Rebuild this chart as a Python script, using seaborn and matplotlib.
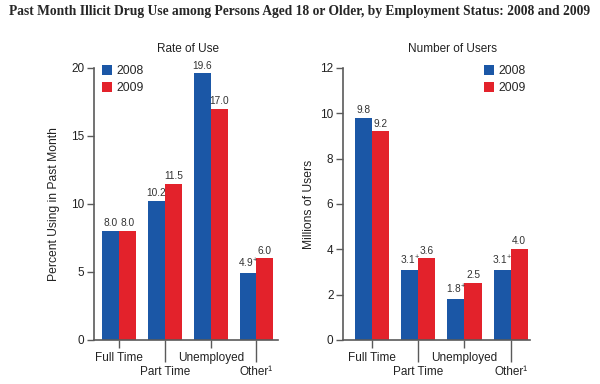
import pandas as pd
import seaborn as sns
import matplotlib.pyplot as plt

# Data
statuses = ["Full Time", "Part Time", "Unemployed", "Other"]
tick_labels = ["Full Time", "Part Time", "Unemployed", "Other¹"]
years = ["2008", "2009"]
rate_2008 = [8.0, 10.2, 19.6, 4.9]
rate_2009 = [8.0, 11.5, 17.0, 6.0]
users_2008 = [9.8, 3.1, 1.8, 3.1]
users_2009 = [9.2, 3.6, 2.5, 4.0]
# "+" marks (difference significant at the .05 level)
rate_flag_2008 = [False, False, False, True]
users_flag_2008 = [False, True, True, True]

BLUE = "#1b57a6"
RED = "#e3222b"
AXIS_GRAY = "#5a5a5a"
TEXT = "#222222"


def make_frame(v2008, v2009):
    return pd.DataFrame({
        "status": statuses * 2,
        "year": [years[0]] * len(statuses) + [years[1]] * len(statuses),
        "value": v2008 + v2009,
    })


def fmt(values, flags=None):
    out = []
    for i, v in enumerate(values):
        s = f"{v:.1f}"
        if flags is not None and flags[i]:
            s += "$^{+}$"
        out.append(s)
    return out


sns.set_style("ticks")
plt.rcParams["font.family"] = ["Liberation Sans", "DejaVu Sans"]
plt.rcParams["mathtext.fontset"] = "custom"
plt.rcParams["mathtext.rm"] = "Liberation Sans"

fig = plt.figure(figsize=(6, 3.84), dpi=100)
ax1 = fig.add_axes([0.157, 0.115, 0.307, 0.708])
ax2 = fig.add_axes([0.572, 0.115, 0.312, 0.708])

panels = [
    (ax1, make_frame(rate_2008, rate_2009), "Percent Using in Past Month",
     (0, 20), [0, 5, 10, 15, 20], (-0.547, 3.48),
     [fmt(rate_2008, rate_flag_2008), fmt(rate_2009)], 0.043, 8),
    (ax2, make_frame(users_2008, users_2009), "Millions of Users",
     (0, 12), [0, 2, 4, 6, 8, 10, 12], (-0.63, 3.43),
     [fmt(users_2008, users_flag_2008), fmt(users_2009)], 0.75, 4),
]

for ax, df, ylabel, ylim, yticks, xlim, labels, leg_x, lpad in panels:
    sns.barplot(data=df, x="status", y="value", hue="year", order=statuses,
                hue_order=years, palette=[BLUE, RED], width=0.74,
                saturation=1, linewidth=0, ax=ax)
    for cont, labs in zip(ax.containers, labels):
        ax.bar_label(cont, labels=labs, padding=2, fontsize=7.3, color="#333333")

    ax.set_ylim(*ylim)
    ax.set_yticks(yticks)
    ax.set_xlim(*xlim)
    ax.set_ylabel(ylabel, fontsize=8.7, color=TEXT, labelpad=lpad)
    ax.set_xlabel("")

    # staggered category labels: even ones on major ticks, odd ones on minor ticks
    ax.set_xticks([0, 2], labels=[tick_labels[0], tick_labels[2]])
    ax.set_xticks([1, 3], labels=[tick_labels[1], tick_labels[3]], minor=True)
    ax.tick_params(axis="x", which="major", length=6, width=1, color=AXIS_GRAY,
                   pad=3, labelsize=8.5, labelcolor=TEXT)
    ax.tick_params(axis="x", which="minor", length=16, width=1, color=AXIS_GRAY,
                   pad=3, labelsize=8.5, labelcolor=TEXT)
    ax.tick_params(axis="y", length=5, width=1, color=AXIS_GRAY, pad=2,
                   labelsize=8.5, labelcolor=TEXT)

    sns.despine(ax=ax)
    for side in ("left", "bottom"):
        ax.spines[side].set_color(AXIS_GRAY)
        ax.spines[side].set_linewidth(1.2)

    ax.legend(loc="upper left", bbox_to_anchor=(leg_x, 1.01), frameon=False,
              fontsize=8.7, handlelength=0.85, handleheight=0.85,
              handletextpad=0.35, labelspacing=0.4, borderpad=0,
              borderaxespad=0)

fig.text(0.5, 0.97, "Past Month Illicit Drug Use among Persons Aged 18 or Older, "
         "by Employment Status: 2008 and 2009", ha="center", va="center",
         fontsize=9.75, fontweight="bold", family="Liberation Serif")
fig.text(0.313, 0.872, "Rate of Use", ha="center", va="center", fontsize=8.5,
         color=TEXT)
fig.text(0.755, 0.872, "Number of Users", ha="center", va="center",
         fontsize=8.5, color=TEXT)

fig.savefig("out.png", dpi=100)
